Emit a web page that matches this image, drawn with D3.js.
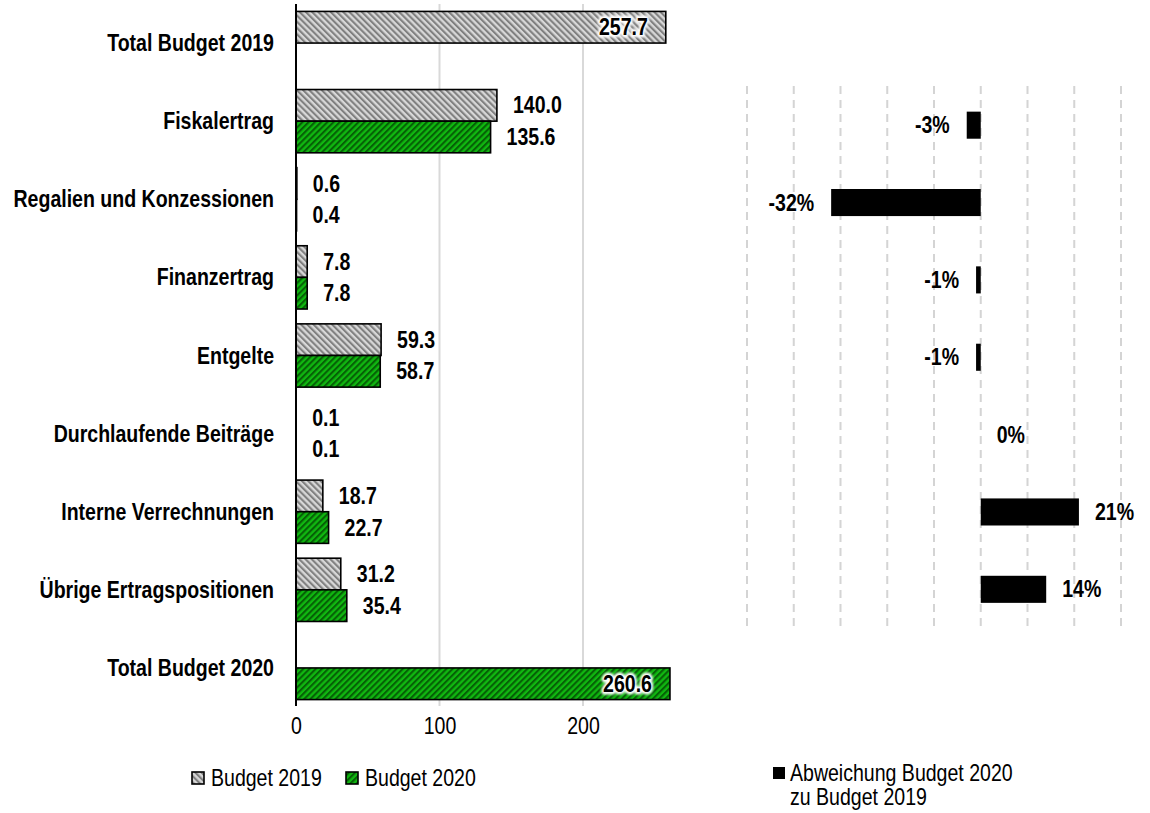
<!DOCTYPE html>
<meta charset="utf-8">
<html>
<head>
    <title>Budget 2019 / 2020</title>
    <script type="text/javascript" src="https://cdn.jsdelivr.net/npm/d3@7/dist/d3.min.js"></script>
    <style type="text/css">
        html, body {
            padding: 0px;
            margin: 0px;
            background: #fff;
        }
        svg text {
            font-family: "Liberation Sans", Arial, sans-serif;
            font-size: 23px;
            fill: #000;
        }
    </style>
</head>
<body>
    <svg id="svg" width="1150" height="813"></svg>
    <script type="text/javascript">
        // Kategorien und Werte (Mio.)
        var categories = ["Total Budget 2019", "Fiskalertrag", "Regalien und Konzessionen", "Finanzertrag",
                          "Entgelte", "Durchlaufende Beiträge", "Interne Verrechnungen",
                          "Übrige Ertragspositionen", "Total Budget 2020"]
        var budget2019 = [257.7, 140.0, 0.6, 7.8, 59.3, 0.1, 18.7, 31.2, null]
        var budget2020 = [null, 135.6, 0.4, 7.8, 58.7, 0.1, 22.7, 35.4, 260.6]
        var totalCats = ["Total Budget 2019", "Total Budget 2020"]
        var xTicks = [0, 100, 200]

        // Abweichung in %
        var devCategories = categories.slice(1, 8)
        var deviation = [-3, -32, -1, -1, 0, 21, 14]
        var devTicks = [-50, -40, -30, -20, -10, 0, 10, 20, 30]

        var seriesNames = ["Budget 2019", "Budget 2020"]
        var SX = 0.85  // schmale Schrift

        var svg = d3.select('svg')
        var defs = svg.append('defs')

        // Schraffuren
        function hatch(id, angle, light, dark) {
            var p = defs.append('pattern')
                .attr('id', id)
                .attr('patternUnits', 'userSpaceOnUse')
                .attr('width', 4.4).attr('height', 4.4)
                .attr('patternTransform', 'rotate(' + angle + ')')
            p.append('rect').attr('width', 4.4).attr('height', 4.4).attr('fill', light)
            p.append('rect').attr('width', 2.1).attr('height', 4.4).attr('fill', dark)
        }
        hatch('hatchGray', -45, '#d8d8d8', '#808080')
        hatch('hatchGreen', 45, '#10b810', '#066006')
        var fills = ['url(#hatchGray)', 'url(#hatchGreen)']

        var glow = defs.append('filter').attr('id', 'glow')
            .attr('x', '-20%').attr('y', '-40%').attr('width', '140%').attr('height', '180%')
        glow.append('feGaussianBlur').attr('in', 'SourceGraphic').attr('stdDeviation', 1.2)

        function label(g, x, y, txt, anchor, bold) {
            return g.append('text')
                .attr('transform', 'translate(' + x + ',' + y + ') scale(' + SX + ',1)')
                .attr('text-anchor', anchor || 'start')
                .attr('dy', '0.35em')
                .attr('font-weight', bold ? 'bold' : 'normal')
                .text(txt)
        }

        // ---------- linkes Diagramm ----------
        var x = d3.scaleLinear().domain([0, 280]).range([296, 697.8])
        var y = d3.scaleBand().domain(categories).range([4, 707]).paddingInner(0.19).paddingOuter(0.095)
        var ySub = d3.scaleBand().domain(seriesNames).range([0, y.bandwidth()])

        var left = svg.append('g')
        left.append('g').selectAll('line')
            .data(xTicks.filter(function (t) { return t > 0 }))
            .enter().append('line')
            .attr('x1', function (d) { return x(d) }).attr('x2', function (d) { return x(d) })
            .attr('y1', 4).attr('y2', 706)
            .attr('stroke', '#d9d9d9').attr('stroke-width', 2)

        var rows = []
        categories.forEach(function (c, i) {
            rows.push({ cat: c, s: 0, v: budget2019[i] })
            rows.push({ cat: c, s: 1, v: budget2020[i] })
        })
        rows = rows.filter(function (r) { return r.v !== null })

        left.append('g').selectAll('rect')
            .data(rows).enter().append('rect')
            .attr('x', x(0))
            .attr('y', function (r) { return y(r.cat) + ySub(seriesNames[r.s]) })
            .attr('width', function (r) { return x(r.v) - x(0) })
            .attr('height', ySub.bandwidth())
            .attr('fill', function (r) { return fills[r.s] })
            .attr('stroke', '#000').attr('stroke-width', 1.6)

        var vl = left.append('g')
        rows.forEach(function (r) {
            var cy = y(r.cat) + ySub(seriesNames[r.s]) + ySub.bandwidth() / 2
            if (totalCats.indexOf(r.cat) >= 0) {
                // weisser Schein hinter der Summe
                label(vl, x(r.v) - 18, cy, r.v.toFixed(1), 'end', true)
                    .attr('fill', '#fff').attr('stroke', '#fff').attr('stroke-width', 5)
                    .attr('stroke-linejoin', 'round').attr('filter', 'url(#glow)')
                label(vl, x(r.v) - 18, cy, r.v.toFixed(1), 'end', true)
            } else {
                label(vl, x(r.v) + 16, cy, r.v.toFixed(1), 'start', true)
            }
        })

        var cl = left.append('g')
        categories.forEach(function (c) {
            label(cl, 274, y(c) + y.bandwidth() / 2, c, 'end', true)
        })

        left.append('line')
            .attr('x1', x(0)).attr('x2', x(0)).attr('y1', 4).attr('y2', 706)
            .attr('stroke', '#000').attr('stroke-width', 2)

        var xAxis = left.append('g')
            .attr('transform', 'translate(0,718)')
            .call(d3.axisBottom(x).tickValues(xTicks).tickSize(0).tickPadding(0))
        xAxis.select('.domain').remove()
        xAxis.selectAll('text')
            .attr('font-size', 23).attr('font-family', '"Liberation Sans", Arial, sans-serif')
            .attr('fill', '#000').attr('transform', 'scale(' + SX + ',1)')

        // Legende links
        var lg = svg.append('g')
        var legendX = [192, 346]
        seriesNames.forEach(function (s, i) {
            lg.append('rect').attr('x', legendX[i]).attr('y', 772).attr('width', 12).attr('height', 12)
                .attr('fill', fills[i]).attr('stroke', '#000').attr('stroke-width', 1.6)
            label(lg, legendX[i] + 19, 778, s, 'start', false)
        })

        // ---------- rechtes Diagramm ----------
        var x2 = d3.scaleLinear().domain([-50, 30]).range([747, 1121])
        var y2 = d3.scaleBand().domain(devCategories).range([86.5, 628]).paddingInner(0.65).paddingOuter(0.325)

        var right = svg.append('g')
        right.append('g').selectAll('line')
            .data(devTicks).enter().append('line')
            .attr('x1', function (d) { return x2(d) }).attr('x2', function (d) { return x2(d) })
            .attr('y1', 86).attr('y2', 628)
            .attr('stroke', '#d4d4d4').attr('stroke-width', 2)
            .attr('stroke-dasharray', '8,6')

        right.append('g').selectAll('rect')
            .data(deviation).enter().append('rect')
            .attr('x', function (d) { return x2(Math.min(0, d)) })
            .attr('y', function (d, i) { return y2(devCategories[i]) })
            .attr('width', function (d) { return Math.abs(x2(d) - x2(0)) })
            .attr('height', y2.bandwidth())
            .attr('fill', '#000')

        deviation.forEach(function (d, i) {
            var cy = y2(devCategories[i]) + y2.bandwidth() / 2
            if (d < 0) label(right, x2(d) - 17, cy, d + '%', 'end', true)
            else label(right, x2(d) + 16, cy, d + '%', 'start', true)
        })

        // Legende rechts
        svg.append('rect').attr('x', 773).attr('y', 767).attr('width', 12).attr('height', 12).attr('fill', '#000')
        label(svg, 790, 773, 'Abweichung Budget 2020', 'start', false)
        label(svg, 790, 797, 'zu Budget 2019', 'start', false)
    </script>
</body>
</html>
